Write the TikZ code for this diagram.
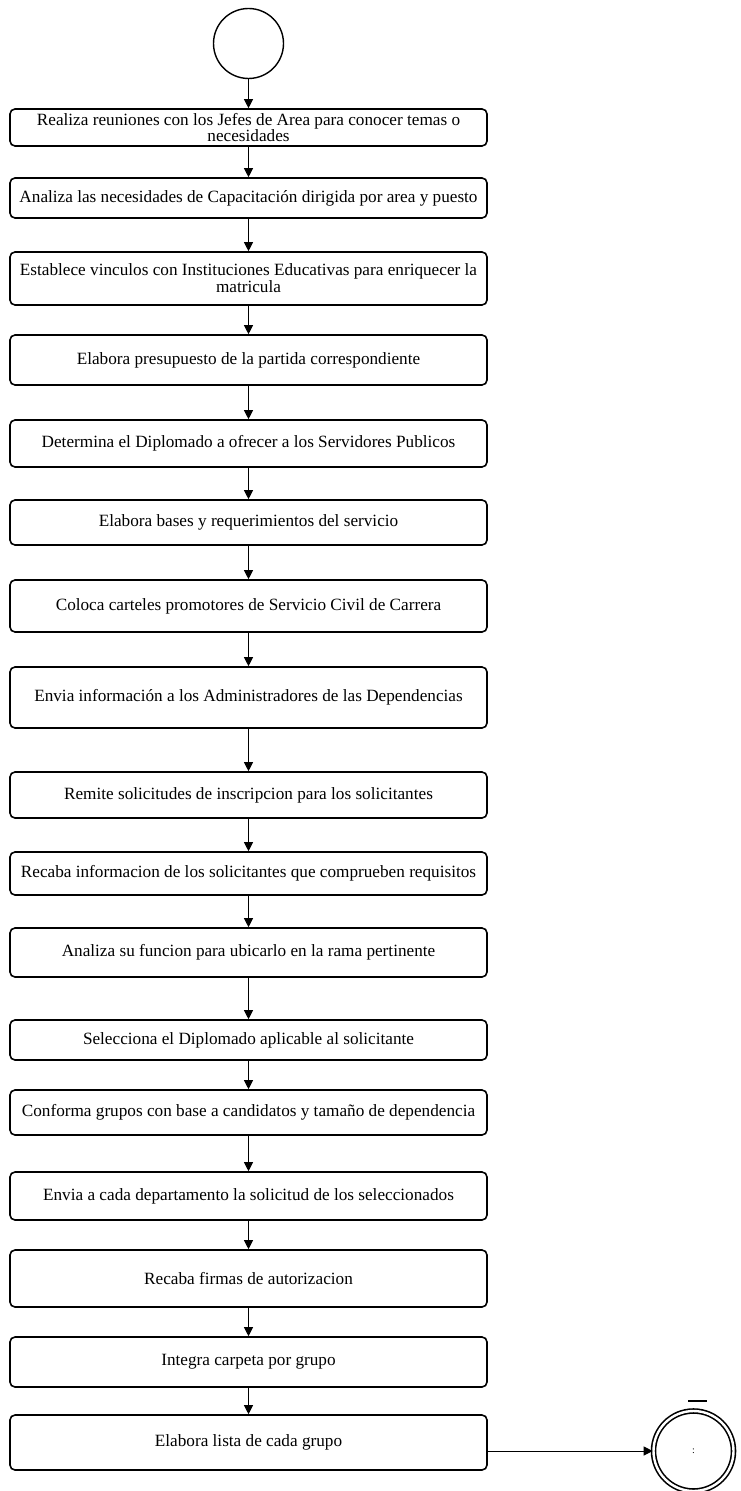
\documentclass[tikz,border=0pt]{standalone}
\usepackage{fontspec}
\setmainfont{Liberation Serif}
\usetikzlibrary{arrows.meta}

\begin{document}
\begin{tikzpicture}[x=0.5pt,y=-0.5pt,
    paso/.style={draw,line width=0.8pt,rounded corners=2.5pt,minimum width=238.5pt,
      align=center,inner xsep=1pt,inner ysep=0.5pt,font=\fontsize{8.6}{8.4}\selectfont},
    flecha/.style={-{Triangle[length=4.5pt,width=4.5pt]},line width=0.5pt}]
  \useasboundingbox (0,0) rectangle (740,1491);
  \node[draw,circle,line width=0.7pt,minimum size=35pt] (inicio) at (248.5,43.5) {};
  \foreach \n/\y/\h/\t in {
      1/127.5/18.5/{Realiza reuniones con los Jefes de Area para conocer temas o\\necesidades},
      2/198/20/{Analiza las necesidades de Capacitación dirigida por area y puesto},
      3/278.5/26.5/{Establece vinculos con Instituciones Educativas para enriquecer la\\matricula},
      4/360/25/{Elabora presupuesto de la partida correspondiente},
      5/443.5/23.5/{Determina el Diplomado a ofrecer a los Servidores Publicos},
      6/522.5/22.5/{Elabora bases y requerimientos del servicio},
      7/606/26/{Coloca carteles promotores de Servicio Civil de Carrera},
      8/697.5/30.5/{Envia información a los Administradores de las Dependencias},
      9/795/23/{Remite solicitudes de inscripcion para los solicitantes},
      10/873.5/21.5/{Recaba informacion de los solicitantes que comprueben requisitos},
      11/952.5/24.5/{Analiza su funcion para ubicarlo en la rama pertinente},
      12/1040/20/{Selecciona el Diplomado aplicable al solicitante},
      13/1112.5/22.5/{Conforma grupos con base a candidatos y tamaño de dependencia},
      14/1196/24/{Envia a cada departamento la solicitud de los seleccionados},
      15/1278.5/28.5/{Recaba firmas de autorizacion},
      16/1362/25/{Integra carpeta por grupo},
      17/1442.5/27.5/{Elabora lista de cada grupo}}
    \node[paso,minimum height=\h pt] (p\n) at (248.5,\y) {\t};
  \draw[flecha] (inicio) -- (p1);
  \foreach \a [count=\b from 2] in {1,...,16}
    \draw[flecha] (p\a) -- (p\b);
  % fin
  \node[draw,circle,line width=0.8pt,double,double distance=1.2pt,minimum size=40pt,
    font=\tiny] (fin) at (693.5,1451) {:};
  \draw[line width=0.7pt] (688,1401) -- (707,1401);
  \draw[flecha] (fin.west -| p17.east) -- (fin.west);
\end{tikzpicture}
\end{document}
